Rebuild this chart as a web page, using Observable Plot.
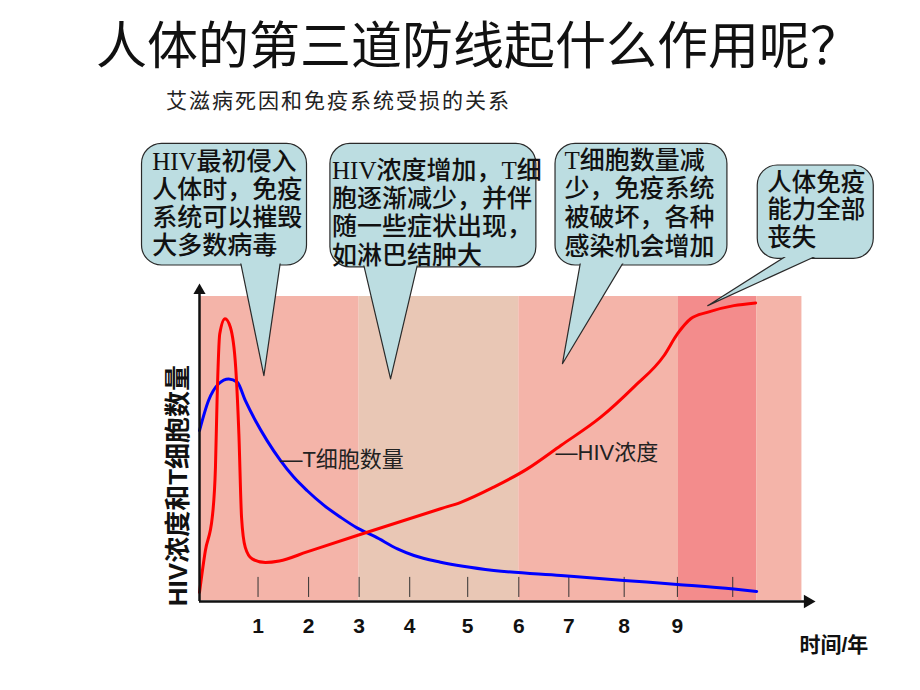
<!DOCTYPE html>
<html>
<head>
<meta charset="utf-8">
<script src="https://cdn.jsdelivr.net/npm/d3@7"></script>
<script src="https://cdn.jsdelivr.net/npm/@observablehq/plot@0.6"></script>
<style>
  html, body { margin: 0; padding: 0; background: #fff; }
  #page { width: 920px; height: 690px; position: relative; overflow: hidden; }
  #head { position: relative; width: 920px; height: 120px; }
  #title { position: absolute; left: 96px; top: 15px; font: 400 51px/54px "Noto Sans CJK SC", sans-serif; color: #111; white-space: nowrap; }
  #subtitle { position: absolute; left: 166px; top: 87px; font: 400 21px/24px "Noto Sans CJK SC", sans-serif; letter-spacing: 2px; color: #222; white-space: nowrap; }
  #chart svg { display: block; }
</style>
</head>
<body>
<div id="page">
  <div id="head">
    <div id="title">人体的第三道防线起什么作用呢？</div>
    <div id="subtitle">艾滋病死因和免疫系统受损的关系</div>
  </div>
  <div id="chart"></div>
</div>
<script>
// ---- data (years on x, relative level 0–100 on y) ----
const hivYears = [0, 0.11, 0.24, 0.30, 0.33, 0.38, 0.48, 0.58, 0.68, 0.74, 0.79, 0.86, 0.99, 1.24, 1.5, 2.02, 2.96, 4.53, 4.91, 5.53, 6.16, 6.79, 7.54, 8.16, 8.73, 8.98, 9.23, 9.54, 10.04, 10.45];
const hivLevel = [2.7, 16.4, 27.4, 43.9, 65.8, 87.7, 92.7, 89.9, 76.7, 54.8, 27.4, 17.5, 13.7, 12.5, 13.0, 16.0, 21.4, 30.2, 32.3, 37.3, 43.3, 51.0, 60.3, 70.2, 80.6, 87.7, 92.7, 94.8, 97.0, 97.9];
const tYears = [0, 0.17, 0.36, 0.55, 0.71, 0.86, 1.05, 1.27, 1.52, 1.77, 2.02, 2.34, 2.65, 2.96, 3.3, 3.72, 4.03, 4.53, 5.53, 6.79, 7.98, 8.98, 10.04, 10.47];
const tLevel = [55.9, 65.8, 71.3, 72.9, 71.8, 65.8, 59.2, 52.6, 46.1, 40.6, 36.2, 31.3, 27.4, 23.9, 21.0, 17.0, 14.8, 12.6, 9.9, 8.2, 6.6, 5.3, 3.8, 3.0];

const tickYears = [1.1, 2.05, 3, 3.95, 5.04, 6, 6.94, 7.98, 8.98, 10.02];
const tickLabels = ["1", "2", "3", "4", "5", "6", "7", "8", "9", ""];

const phaseStart = [0, 3, 6, 9, 10.47];
const phaseEnd = [3, 6, 9, 10.47, 11.32];
const phaseName = ["急性期", "潜伏期", "发病期", "晚期", "末"];

const calloutText = [
  "HIV最初侵入\n人体时，免疫\n系统可以摧毁\n大多数病毒",
  "HIV浓度增加，T细\n胞逐渐减少，并伴\n随一些症状出现，\n如淋巴结肿大",
  "T细胞数量减\n少，免疫系统\n被破坏，各种\n感染机会增加",
  "人体免疫\n能力全部\n丧失"
];

// ---- layout / style ----
const phaseColor = {"急性期": "#f4b4a9", "潜伏期": "#e9c7b5", "发病期": "#f4b4a9", "晚期": "#f38c8c", "末": "#f4b4a9"};
const boxes = [
  {x1: -1.08, x2: 2.02, y1: 110.2, y2: 150.2, tx: -0.89, ty: 148.3, fs: 25, lh: 1.13,
   ptr: [[0.77, 111.4], [1.21, 74.0], [1.52, 111.4]]},
  {x1: 2.46, x2: 6.33, y1: 109.6, y2: 150.2, tx: 2.49, ty: 145.3, fs: 25, lh: 1.13,
   ptr: [[3.08, 110.8], [3.59, 72.9], [4.10, 110.8]]},
  {x1: 6.69, x2: 9.92, y1: 110.2, y2: 150.2, tx: 6.86, ty: 148.8, fs: 25, lh: 1.15,
   ptr: [[7.16, 111.4], [6.82, 77.9], [7.97, 111.4]]},
  {x1: 10.49, x2: 12.67, y1: 112.4, y2: 143.1, tx: 10.67, ty: 141.1, fs: 24.5, lh: 1.12,
   ptr: [[11.05, 113.6], [9.55, 97.0], [11.62, 113.6]]}
];
boxes.forEach((b, i) => b.text = calloutText[i]);

const hiv = hivYears.map((x, i) => ({x, y: hivLevel[i]}));
const tc = tYears.map((x, i) => ({x, y: tLevel[i]}));
const phases = phaseStart.map((s, i) => ({s, e: phaseEnd[i], name: phaseName[i]}));
const ticks = tickYears.map((x, i) => ({x, label: tickLabels[i]}));

const boxFill = "#bcdde1";
const boxStroke = "#2a2a2a";
const calloutFont = "'Liberation Serif', 'Noto Sans CJK SC', serif";
const sansFont = "'Liberation Sans', 'Noto Sans CJK SC', sans-serif";

const marks = [
  Plot.rectY(phases, {x1: "s", x2: "e", y1: 0, y2: 100, fill: d => phaseColor[d.name]}),
  Plot.ruleX(ticks, {x: "x", y1: 1.0, y2: 7.6, stroke: "#333", strokeWidth: 1}),
  Plot.line(tc, {x: "x", y: "y", stroke: "#0000ff", strokeWidth: 3, curve: "monotone-x"}),
  Plot.line(hiv, {x: "x", y: "y", stroke: "#ff0000", strokeWidth: 3, curve: "monotone-x"}),
  // axes
  Plot.ruleY([-0.3], {x1: 0, x2: 11.42, stroke: "#111", strokeWidth: 2.5}),
  Plot.ruleX([0], {y1: -0.3, y2: 101.5, stroke: "#111", strokeWidth: 2.5}),
  Plot.dot([{x: 0, y: 102.0}], {x: "x", y: "y", symbol: "triangle", r: 4.5, fill: "#111", stroke: "none"}),
  Plot.dot([{x: 11.43, y: -0.3}], {x: "x", y: "y", symbol: "triangle", r: 5, fill: "#111", stroke: "none", rotate: 90}),
  Plot.text(ticks, {x: "x", y: -8.6, text: "label", fontSize: 21, fontWeight: "bold", fontFamily: sansFont, fill: "#111"}),
  Plot.text(["时间/年"], {x: 11.92, y: -14.8, text: d => d, fontSize: 21, fontWeight: "bold", fontFamily: sansFont, fill: "#111"}),
  Plot.text(["HIV浓度和T细胞数量"], {x: -0.39, y: 37.8, text: d => d, rotate: -90, fontSize: 26, fontWeight: "bold", fontFamily: sansFont, fill: "#111"}),
  // curve labels
  Plot.text(["—T细胞数量"], {x: 1.52, y: 46.1, text: d => d, textAnchor: "start", fontSize: 22, fontFamily: sansFont, fill: "#222"}),
  Plot.text(["—HIV浓度"], {x: 6.69, y: 48.5, text: d => d, textAnchor: "start", fontSize: 22, fontFamily: sansFont, fill: "#222"}),
  // callouts
  Plot.rect(boxes, {x1: "x1", x2: "x2", y1: "y1", y2: "y2", rx: 20, fill: boxFill, stroke: boxStroke, strokeWidth: 1.2})
];
boxes.forEach(b => {
  marks.push(Plot.line(b.ptr, {x: d => d[0], y: d => d[1], fill: boxFill, stroke: boxStroke, strokeWidth: 1.2, curve: "linear"}));
});
marks.push(Plot.rect(boxes, {x1: "x1", x2: "x2", y1: "y1", y2: "y2", rx: 19, inset: 1.4, fill: boxFill}));
boxes.forEach(b => {
  marks.push(Plot.text([b], {x: "tx", y: "ty", text: "text", textAnchor: "start", lineAnchor: "top", fontSize: b.fs, lineHeight: b.lh, fontWeight: 500, fontFamily: calloutFont, fill: "#111"}));
});

const chart = Plot.plot({
  width: 920,
  height: 570,
  marginLeft: 199,
  marginRight: 109,
  marginTop: 0,
  marginBottom: 0,
  x: {domain: [0, 11.5], axis: null},
  y: {domain: [-29.6, 157.9], axis: null},
  style: {background: "white", overflow: "visible", fontFamily: sansFont},
  marks
});
document.getElementById("chart").appendChild(chart);
</script>
</body>
</html>
